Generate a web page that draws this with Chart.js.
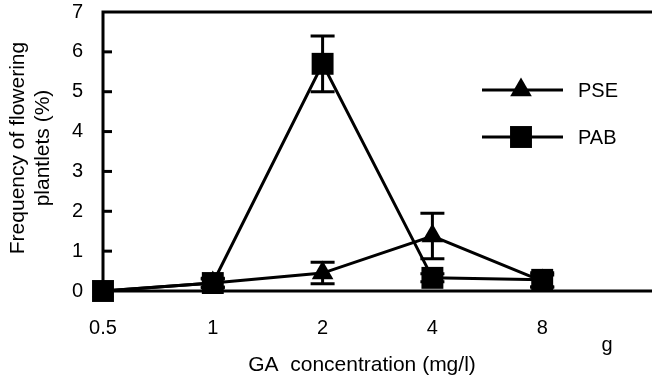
<!DOCTYPE html>
<html>
<head>
<meta charset="utf-8">
<script src="https://cdn.jsdelivr.net/npm/chart.js@4.4.1/dist/chart.umd.min.js"></script>
<style>
  html, body { margin: 0; padding: 0; background: #fff; }
  #wrap { width: 652px; height: 376px; }
</style>
</head>
<body>
<div id="wrap"><canvas id="chart" width="652" height="376"></canvas></div>
<script>
  // data
  const concentrations = ["0.5", "1", "2", "4", "8"];
  const pseValues = [0, 0.2, 0.45, 1.38, 0.25];
  const pseErrors = [0, 0.1, 0.27, 0.57, 0.15];
  const pabValues = [0, 0.2, 5.7, 0.33, 0.28];
  const pabErrors = [0, 0.12, 0.7, 0.1, 0.18];
  const yTicks = [0, 1, 2, 3, 4, 5, 6, 7];

  const FONT = "'Liberation Sans', Arial, sans-serif";
  const INK = "#000";

  function noPad(s) {
    s.paddingLeft = 0; s.paddingRight = 0; s.paddingTop = 0; s.paddingBottom = 0;
  }

  /* ---------- axes frame, inward ticks, error bars, legend, titles ---------- */
  const decor = {
    id: "decor",
    afterDatasetsDraw(chart) {
      const { ctx, chartArea: a, scales: { x, y } } = chart;
      ctx.save();
      ctx.strokeStyle = INK;
      ctx.fillStyle = INK;

      // error bars
      ctx.lineWidth = 3;
      chart.data.datasets.forEach((ds) => {
        ds.errors.forEach((e, i) => {
          if (!e) return;
          const v = ds.values[i];
          const px = x.getPixelForValue(i);
          const top = y.getPixelForValue(v + e);
          const bot = y.getPixelForValue(Math.max(0, v - e));
          ctx.beginPath();
          ctx.moveTo(px, top); ctx.lineTo(px, bot);
          ctx.moveTo(px - 12, top); ctx.lineTo(px + 12, top);
          ctx.moveTo(px - 12, bot); ctx.lineTo(px + 12, bot);
          ctx.stroke();
        });
      });

      // frame: left, top, bottom
      ctx.lineWidth = 3;
      ctx.lineCap = "square";
      ctx.beginPath();
      ctx.moveTo(a.right, a.top); ctx.lineTo(a.left, a.top); ctx.lineTo(a.left, a.bottom); ctx.lineTo(a.right, a.bottom);
      ctx.stroke();

      // inward y ticks
      ctx.lineCap = "butt";
      yTicks.slice(1, -1).forEach((t) => {
        const py = y.getPixelForValue(t);
        ctx.beginPath();
        ctx.moveTo(a.left, py); ctx.lineTo(a.left + 9, py);
        ctx.stroke();
      });

      // legend
      const rows = [{ ds: chart.data.datasets[0], y: 90 }, { ds: chart.data.datasets[1], y: 137 }];
      rows.forEach((r) => {
        ctx.lineWidth = 3;
        ctx.beginPath();
        ctx.moveTo(482, r.y); ctx.lineTo(563, r.y);
        ctx.stroke();
        Chart.helpers.drawPoint(ctx, { pointStyle: r.ds.pointStyle, radius: r.ds.pointRadius, borderWidth: 0, rotation: 0 }, 521, r.y);
        ctx.font = "20px " + FONT;
        ctx.textAlign = "left";
        ctx.textBaseline = "middle";
        ctx.fillText(r.ds.label, 578, r.y + 1);
      });

      // axis titles
      ctx.font = "21px " + FONT;
      ctx.textAlign = "center";
      ctx.textBaseline = "alphabetic";
      ctx.fillText("GA  concentration (mg/l)", 362, 371);
      ctx.font = "20px " + FONT;
      ctx.fillText("g", 607, 351);

      ctx.save();
      ctx.translate(0, 148);
      ctx.rotate(-Math.PI / 2);
      ctx.font = "21px " + FONT;
      ctx.textBaseline = "middle";
      ctx.fillText("Frequency of flowering", 0, 18);
      ctx.fillText("plantlets (%)", 0, 43);
      ctx.restore();

      ctx.restore();
    },
  };

  new Chart(document.getElementById("chart"), {
    type: "line",
    data: {
      datasets: [
        { label: "PSE", values: pseValues, errors: pseErrors, pointStyle: "triangle", pointRadius: 12.5 },
        { label: "PAB", values: pabValues, errors: pabErrors, pointStyle: "rect", pointRadius: 15.5 },
      ].map((d) => ({
        ...d,
        data: d.values.map((v, i) => ({ x: i, y: v })),
        borderColor: INK,
        backgroundColor: INK,
        pointBackgroundColor: INK,
        pointBorderWidth: 0,
        borderWidth: 3,
        tension: 0,
        clip: false,
      })),
    },
    options: {
      responsive: false,
      animation: false,
      events: [],
      layout: { autoPadding: false, padding: { top: 12, right: 0, bottom: 0, left: 0 } },
      plugins: { legend: { display: false }, tooltip: { enabled: false } },
      scales: {
        x: {
          type: "linear",
          min: 0,
          max: 5,
          grid: { display: false, drawTicks: false },
          border: { display: false },
          afterBuildTicks: (s) => { s.ticks = concentrations.map((c, i) => ({ value: i })); },
          afterFit: (s) => { s.height = 85; noPad(s); },
          ticks: {
            padding: 25,
            color: INK,
            font: { family: FONT, size: 20 },
            maxRotation: 0,
            callback: (v) => concentrations[v],
          },
        },
        y: {
          min: 0,
          max: 7,
          grid: { display: false, drawTicks: false },
          border: { display: false },
          afterBuildTicks: (s) => { s.ticks = yTicks.map((t) => ({ value: t })); },
          afterFit: (s) => { s.width = 103; noPad(s); },
          ticks: { padding: 20, color: INK, font: { family: FONT, size: 20 } },
        },
      },
    },
    plugins: [decor],
  });
</script>
</body>
</html>
